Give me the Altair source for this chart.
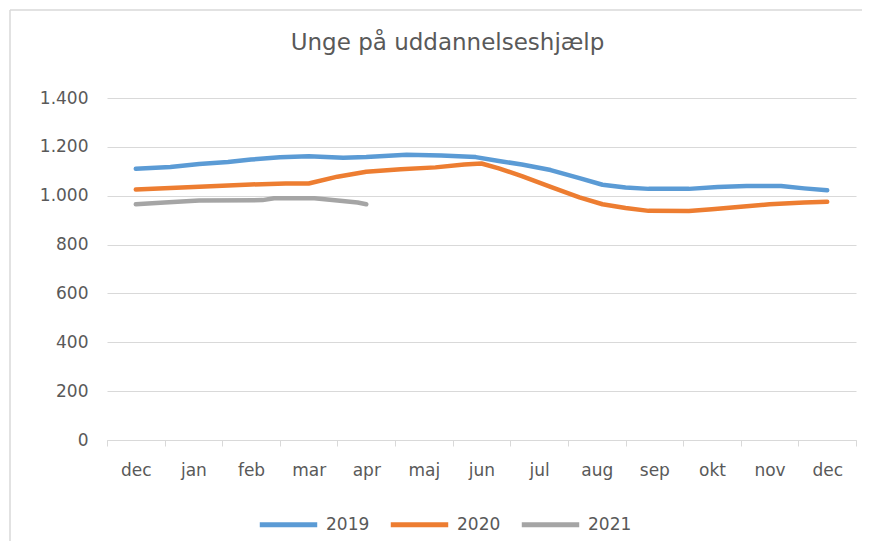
import altair as alt
import pandas as pd

months = ["dec", "jan", "feb", "mar", "apr", "maj", "jun", "jul", "aug", "sep", "okt", "nov", "dec"]
series = ["2019", "2020", "2021"]
colors = ["#5B9BD5", "#ED7D31", "#A5A5A5"]

x2019 = [0.0, 0.6, 1.1, 1.6, 2.0, 2.5, 3.0, 3.6, 4.0, 4.7, 5.3, 5.9, 6.3, 6.7, 7.2, 7.7, 8.1, 8.5, 8.9, 9.6, 10.1, 10.6, 11.2, 11.6, 12.0]
y2019 = [1110, 1118, 1130, 1138, 1148, 1157, 1162, 1155, 1158, 1168, 1165, 1158, 1142, 1128, 1105, 1072, 1045, 1034, 1028, 1028, 1036, 1040, 1040, 1030, 1022]

x2020 = [0.0, 0.6, 1.4, 2.0, 2.6, 3.0, 3.5, 4.0, 4.6, 5.2, 5.7, 6.0, 6.3, 6.7, 7.2, 7.7, 8.1, 8.5, 8.9, 9.6, 10.0, 10.5, 11.0, 11.6, 12.0]
y2020 = [1025, 1032, 1040, 1046, 1050, 1050, 1078, 1098, 1108, 1116, 1128, 1132, 1112, 1080, 1036, 993, 965, 950, 938, 937, 945, 955, 965, 972, 975]

x2021 = [0.0, 0.5, 1.1, 2.2, 2.4, 3.1, 3.5, 3.85, 4.0]
y2021 = [965, 972, 980, 982, 990, 990, 980, 972, 965]

y_ticks = [0, 200, 400, 600, 800, 1000, 1200, 1400]
x_ticks = [i - 0.5 for i in range(len(months) + 1)]

rows = []
for name, xs, ys in zip(series, [x2019, x2020, x2021], [y2019, y2020, y2021]):
    for x, y in zip(xs, ys):
        rows.append({"serie": name, "m": x, "v": y})
df = pd.DataFrame(rows)

month_arr = "[" + ",".join("'%s'" % m for m in months) + "]"
x_label_expr = month_arr + "[round(datum.value + 0.5)] || ''"

font = "DejaVu Sans"
grey = "#595959"
frame = "#D9D9D9"

lines = alt.Chart(df).mark_line(strokeWidth=4.5, strokeCap="round", strokeJoin="round").encode(
    x=alt.X("m:Q",
            scale=alt.Scale(domain=[-0.5, 12.5], nice=False, zero=False),
            axis=alt.Axis(values=x_ticks, labelExpr=x_label_expr, labelOffset=28.8,
                          grid=False, tickSize=6, tickColor=frame, domainColor=frame,
                          labelBound=False, labelOverlap=False, labelFlush=False,
                          labelPadding=16, labelFontSize=17, labelColor=grey, labelFont=font,
                          title=None)),
    y=alt.Y("v:Q",
            scale=alt.Scale(domain=[0, 1400], nice=False),
            axis=alt.Axis(values=y_ticks, labelExpr="replace(format(datum.value, ','), ',', '.')",
                          grid=True, gridColor=frame, domain=False, ticks=False,
                          labelPadding=19, labelFontSize=17, labelColor=grey, labelFont=font,
                          title=None)),
    color=alt.Color("serie:N",
                    scale=alt.Scale(domain=series, range=colors),
                    legend=alt.Legend(title=None, orient="none", direction="horizontal",
                                      legendX=150, legendY=395,
                                      symbolType="stroke", symbolSize=3300, symbolStrokeWidth=5,
                                      labelFontSize=17, labelColor=grey, labelFont=font,
                                      labelOffset=6, columnPadding=10)),
    order=alt.Order("m:Q"),
)

one = pd.DataFrame({"k": [0]})
top_border = alt.Chart(one).mark_rule(color=frame, strokeWidth=1.5).encode(
    x=alt.value(-97), x2=alt.value(760), y=alt.value(-88))
left_border = alt.Chart(one).mark_rule(color=frame, strokeWidth=1.5).encode(
    x=alt.value(-97), y=alt.value(-88), y2=alt.value(460))

chart = alt.layer(top_border, left_border, lines).properties(
    width=749,
    height=342,
    title=alt.TitleParams("Unge på uddannelseshjælp", fontSize=23, font=font, color=grey,
                          fontWeight="normal", anchor="middle", dx=-34, offset=-46),
    autosize=alt.AutoSizeParams(type="none"),
    padding={"left": 99, "top": 90, "right": 6, "bottom": 101},
).configure_view(stroke=None)

chart.save("out.html", embed_options={"renderer": "svg", "actions": False})
